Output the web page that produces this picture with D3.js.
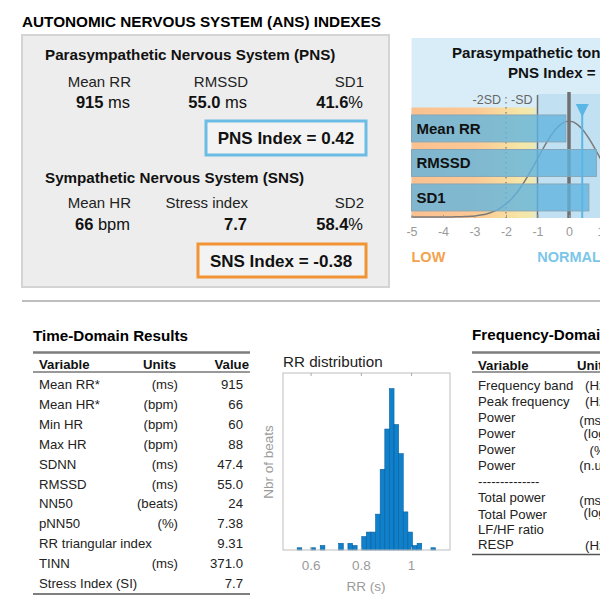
<!DOCTYPE html>
<html><head><meta charset="utf-8">
<script src="https://cdn.jsdelivr.net/npm/d3@7"></script>
<style>
html,body{margin:0;padding:0;background:#fff;}
svg{display:block;font-family:"Liberation Sans",Arial,sans-serif;}
</style></head>
<body><svg id="c" width="600" height="600"></svg>
<script>
// ---------- data ----------
const pnsLabels = ["Mean RR", "RMSSD", "SD1"];
const pnsValues = ["915", "55.0", "41.6"];
const pnsUnits  = [" ms", " ms", "%"];
const snsLabels = ["Mean HR", "Stress index", "SD2"];
const snsValues = ["66", "7.7", "58.4"];
const snsUnits  = [" bpm", "", "%"];
const pnsIndex = 0.42;
const snsIndex = -0.38;

const gaugeLabels = ["Mean RR", "RMSSD", "SD1"];
const gaugeZ = [-0.1, 0.87, 0.63];
const gaugeTicks = [-5, -4, -3, -2, -1, 0, 1, 2, 3, 4, 5];

const timeVars  = ["Mean RR*", "Mean HR*", "Min HR", "Max HR", "SDNN", "RMSSD", "NN50", "pNN50", "RR triangular index", "TINN", "Stress Index (SI)"];
const timeUnits = ["(ms)", "(bpm)", "(bpm)", "(bpm)", "(ms)", "(ms)", "(beats)", "(%)", "", "(ms)", ""];
const timeValues = ["915", "66", "60", "88", "47.4", "55.0", "24", "7.38", "9.31", "371.0", "7.7"];

const freqVars  = ["Frequency band", "Peak frequency", "Power", "Power", "Power", "Power", "--------------", "Total power", "Total Power", "LF/HF ratio", "RESP"];
const freqUnits = ["(Hz)", "(Hz)", "(ms\u00b2)", "(log)", "(%)", "(n.u.)", "", "(ms\u00b2)", "(log)", "", "(Hz)"];

const histEdges  = [0.5464,0.5648,0.5832,0.6015,0.6199,0.6383,0.6566,0.6750,0.6934,0.7117,0.7301,0.7485,0.7668,0.7852,0.8036,0.8219,0.8403,0.8587,0.8770,0.8954,0.9138,0.9321,0.9505,0.9689,0.9872,1.0056,1.0240,1.0423,1.0607,1.0791];
const histCounts = [1,0,0,1,0,2,0,0,0,3,0,3,2,0,6,8,8,16,36,54,72,56,43,17,8,2,3,0,0,1];
const histBinWidth = 0.01837;
const histTicks = [0.6, 0.8, 1];

// ---------- drawing ----------
const svg = d3.select("#c");
const F = '"Liberation Sans",Arial,sans-serif';

function txt(g, x, y, s, o = {}) {
  return g.append("text").attr("x", x).attr("y", y).text(s)
    .attr("font-size", o.size || 13).attr("font-weight", o.bold ? "bold" : "normal")
    .attr("fill", o.fill || "#111").attr("text-anchor", o.anchor || "start");
}

// Title
txt(svg, 22, 27, "AUTONOMIC NERVOUS SYSTEM (ANS) INDEXES", {size: 15.3, bold: true, fill: "#000"});

// Gray box
svg.append("rect").attr("x", 22).attr("y", 35).attr("width", 367).attr("height", 252)
  .attr("fill", "#ededed").attr("stroke", "#d4d4d4").attr("stroke-width", 2);

const colX = [131, 248, 364];
function section(title, ty, labels, values, units, ly, vy) {
  txt(svg, 45, ty, title, {size: 15.2, bold: true, fill: "#111"});
  labels.forEach((l, i) => txt(svg, colX[i], ly, l, {size: 15, anchor: "end", fill: "#222"}));
  values.forEach((v, i) => {
    const t = svg.append("text").attr("x", colX[i] - 1).attr("y", vy).attr("text-anchor", "end")
      .attr("font-size", 16.5).attr("fill", "#111");
    t.append("tspan").attr("font-weight", "bold").text(v);
    if (units[i]) t.append("tspan").attr("font-weight", "normal").text(units[i]);
  });
}
section("Parasympathetic Nervous System (PNS)", 60, pnsLabels, pnsValues, pnsUnits, 87, 108);
section("Sympathetic Nervous System (SNS)", 183, snsLabels, snsValues, snsUnits, 208, 230);

svg.append("rect").attr("x", 206).attr("y", 121).attr("width", 160).attr("height", 34)
  .attr("fill", "#f3f3f3").attr("stroke", "#6cbde6").attr("stroke-width", 3);
txt(svg, 286, 144, "PNS Index = " + pnsIndex.toFixed(2), {size: 17, bold: true, anchor: "middle", fill: "#111"});
svg.append("rect").attr("x", 198).attr("y", 244).attr("width", 168).attr("height", 33)
  .attr("fill", "#f3f3f3").attr("stroke", "#f29433").attr("stroke-width", 3);
txt(svg, 281, 267, "SNS Index = " + snsIndex.toFixed(2), {size: 17, bold: true, anchor: "middle", fill: "#111"});

// Separator
svg.append("line").attr("x1", 22).attr("x2", 600).attr("y1", 301).attr("y2", 301)
  .attr("stroke", "#a8a8a8").attr("stroke-width", 1.5);

// ---------- Gauge ----------
const gx = d3.scaleLinear().domain([-5, 5]).range([411.5, 726.5]);
const gy = d3.scaleBand().domain(gaugeLabels).range([111.2, 214.7]).paddingInner(0.22).paddingOuter(0.11);
const gBottom = 218;
const defs = svg.append("defs");
const grad = defs.append("linearGradient").attr("id", "lowgrad").attr("gradientUnits", "userSpaceOnUse")
  .attr("x1", gx(-5)).attr("x2", gx(-1)).attr("y1", 0).attr("y2", 0);
[[0, "#fbc190"], [0.5, "#fbc894"], [0.72, "#f9d99c"], [0.86, "#f6e6a6"], [0.97, "#eee9b4"], [1, "#cfe8f2"]]
  .forEach(s => grad.append("stop").attr("offset", s[0]).attr("stop-color", s[1]));

svg.append("rect").attr("x", gx(-5)).attr("y", 38).attr("width", 600 - gx(-5)).attr("height", gBottom - 38)
  .attr("fill", "#d9edf8");
svg.append("rect").attr("x", gx(-1)).attr("y", 94).attr("width", gx(1) - gx(-1)).attr("height", gBottom - 94)
  .attr("fill", "#c1e1f3");
svg.append("rect").attr("x", gx(-5)).attr("y", 107.5).attr("width", gx(-1) - gx(-5)).attr("height", gBottom - 107.5)
  .attr("fill", "url(#lowgrad)");

txt(svg, 452, 58, "Parasympathetic tone", {size: 15.1, bold: true, fill: "#111"});
txt(svg, 508, 78, "PNS Index = " + pnsIndex.toFixed(2), {size: 15.1, bold: true, fill: "#111"});

// normal curve (standard normal density, reference shape)
const gCurveTop = 121, gCurveH = gBottom - gCurveTop;
const curvePts = d3.range(-5, 5.01, 0.1).map(z => [z, Math.exp(-z * z / 2)]);
svg.append("path").datum(curvePts)
  .attr("d", d3.line().x(d => gx(d[0])).y(d => gBottom - 1 - d[1] * (gCurveH - 1)).curve(d3.curveBasis))
  .attr("fill", "none").attr("stroke", "#7a7a7a").attr("stroke-width", 1.5);

// reference lines
svg.append("line").attr("x1", gx(-2)).attr("x2", gx(-2)).attr("y1", 97).attr("y2", gBottom)
  .attr("stroke", "#8a8a8a").attr("stroke-width", 1.5).attr("stroke-dasharray", "1.5,3.5");
svg.append("line").attr("x1", gx(-1)).attr("x2", gx(-1)).attr("y1", 95).attr("y2", gBottom)
  .attr("stroke", "#6e6e6e").attr("stroke-width", 1.5);
svg.append("line").attr("x1", gx(0)).attr("x2", gx(0)).attr("y1", 92).attr("y2", gBottom)
  .attr("stroke", "#707070").attr("stroke-width", 3.5);
txt(svg, gx(-2) - 5, 104, "-2SD", {size: 12.5, anchor: "end", fill: "#666"});
txt(svg, gx(-1) - 5, 104, "-SD", {size: 12.5, anchor: "end", fill: "#666"});

// bars
svg.append("g").selectAll("rect").data(gaugeLabels).join("rect")
  .attr("x", gx(-5)).attr("y", d => gy(d))
  .attr("width", (d, i) => gx(gaugeZ[i]) - gx(-5)).attr("height", gy.bandwidth())
  .attr("fill", "#62b4de").attr("fill-opacity", 0.8).attr("stroke", "#86a6b8").attr("stroke-width", 1);
svg.append("g").selectAll("text").data(gaugeLabels).join("text")
  .attr("x", gx(-5) + 5).attr("y", d => gy(d) + gy.bandwidth() / 2 + 5.5)
  .attr("font-size", 15).attr("font-weight", "bold").attr("fill", "#111").text(d => d);

// PNS marker
svg.append("line").attr("x1", gx(pnsIndex)).attr("x2", gx(pnsIndex)).attr("y1", 104).attr("y2", gBottom)
  .attr("stroke", "#5ab6e4").attr("stroke-width", 2);
svg.append("path").attr("d", d3.line()([[gx(pnsIndex) - 6.5, 104], [gx(pnsIndex) + 6.5, 104], [gx(pnsIndex), 117]]) + "Z")
  .attr("fill", "#5ab6e4");

// gauge axis
const gAxis = svg.append("g").attr("transform", `translate(0,${gBottom})`)
  .call(d3.axisBottom(gx).tickValues(gaugeTicks).tickFormat(d => String(d)).tickSize(-3).tickPadding(9));
gAxis.select(".domain").remove();
gAxis.selectAll("line").attr("stroke", "#999");
gAxis.selectAll("text").attr("font-size", 12.5).attr("font-family", F).attr("fill", "#999").attr("dy", "0.71em");

txt(svg, gx(-5), 262, "LOW", {size: 14.5, bold: true, fill: "#f4a24c"});
txt(svg, gx(0), 262, "NORMAL", {size: 14.5, bold: true, anchor: "middle", fill: "#7cc6ea"});

// ---------- Time-domain table ----------
txt(svg, 33, 341, "Time-Domain Results", {size: 15.2, bold: true, fill: "#000"});
svg.append("line").attr("x1", 33).attr("x2", 250).attr("y1", 352.5).attr("y2", 352.5).attr("stroke", "#7d7d7d").attr("stroke-width", 2.5);
txt(svg, 39, 369, "Variable", {size: 13.2, bold: true});
txt(svg, 176, 369, "Units", {size: 13.2, bold: true, anchor: "end"});
txt(svg, 249, 369, "Value", {size: 13.2, bold: true, anchor: "end"});
svg.append("line").attr("x1", 33).attr("x2", 250).attr("y1", 372).attr("y2", 372).attr("stroke", "#333").attr("stroke-width", 1);
const tRow = d3.scaleLinear().domain([0, 10]).range([389, 588]);
timeVars.forEach((v, i) => {
  txt(svg, 39, tRow(i), v, {size: 13.2, fill: "#222"});
  if (timeUnits[i]) txt(svg, 178, tRow(i), timeUnits[i], {size: 13.2, anchor: "end", fill: "#222"});
  txt(svg, 243, tRow(i), timeValues[i], {size: 13.2, anchor: "end", fill: "#222"});
});
svg.append("line").attr("x1", 33).attr("x2", 250).attr("y1", 594).attr("y2", 594).attr("stroke", "#555").attr("stroke-width", 1.5);

// ---------- Histogram ----------
const hx = d3.scaleLinear().domain([0.49, 1.155]).range([283, 450]);
const hy = d3.scaleLinear().domain([0, 79]).range([550, 373]);
txt(svg, 283, 367, "RR distribution", {size: 15.2, fill: "#222"});
svg.append("g").selectAll("rect").data(histCounts).join("rect")
  .attr("x", (d, i) => hx(histEdges[i])).attr("width", hx(histEdges[0] + histBinWidth) - hx(histEdges[0]))
  .attr("y", d => hy(d)).attr("height", d => hy(0) - hy(d))
  .attr("fill", "#0f80cc").attr("stroke", "#0b5f9a").attr("stroke-width", 0.6);
svg.append("rect").attr("x", 283).attr("y", 373).attr("width", 167).attr("height", 177)
  .attr("fill", "none").attr("stroke", "#bdbdbd").attr("stroke-width", 1);
const hAxis = svg.append("g").attr("transform", "translate(0,550)")
  .call(d3.axisBottom(hx).tickValues(histTicks).tickFormat(d => String(d)).tickSize(-3).tickPadding(10));
hAxis.select(".domain").remove();
hAxis.selectAll("line").attr("stroke", "#aaa");
hAxis.selectAll("text").attr("font-size", 13.5).attr("font-family", F).attr("fill", "#9a9a9a");
const hTop = svg.append("g").attr("transform", "translate(0,373)")
  .call(d3.axisTop(hx).tickValues(histTicks).tickFormat("").tickSize(-3));
hTop.select(".domain").remove();
hTop.selectAll("line").attr("stroke", "#aaa");
txt(svg, 366, 591, "RR (s)", {size: 13.5, anchor: "middle", fill: "#9a9a9a"});
svg.append("text").attr("transform", "translate(273,462) rotate(-90)").attr("text-anchor", "middle")
  .attr("font-size", 13.5).attr("fill", "#9a9a9a").text("Nbr of beats");

// ---------- Frequency-domain table ----------
txt(svg, 472, 340, "Frequency-Domain Results", {size: 15.2, bold: true, fill: "#000"});
svg.append("line").attr("x1", 472).attr("x2", 600).attr("y1", 352.5).attr("y2", 352.5).attr("stroke", "#7d7d7d").attr("stroke-width", 2.5);
txt(svg, 478, 369.5, "Variable", {size: 13.2, bold: true});
txt(svg, 577, 369.5, "Units", {size: 13.2, bold: true});
svg.append("line").attr("x1", 472).attr("x2", 600).attr("y1", 372).attr("y2", 372).attr("stroke", "#333").attr("stroke-width", 1);
const fRowY = [389.5, 405.5, 421.5, 437.5, 453.5, 469.5, 485.5, 502, 518.5, 533.7, 549.3];
const fUnitY = [390, 405.5, 425, 437.5, 454.5, 469.5, 485.5, 505, 517, 533.7, 549.8];
freqVars.forEach((v, i) => {
  txt(svg, 478, fRowY[i], v, {size: 13.2, fill: "#222"});
  if (freqUnits[i]) txt(svg, 610, fUnitY[i], freqUnits[i], {size: 13.2, anchor: "end", fill: "#222"});
});
svg.append("line").attr("x1", 472).attr("x2", 600).attr("y1", 554.5).attr("y2", 554.5).attr("stroke", "#555").attr("stroke-width", 1.5);
</script></body></html>
